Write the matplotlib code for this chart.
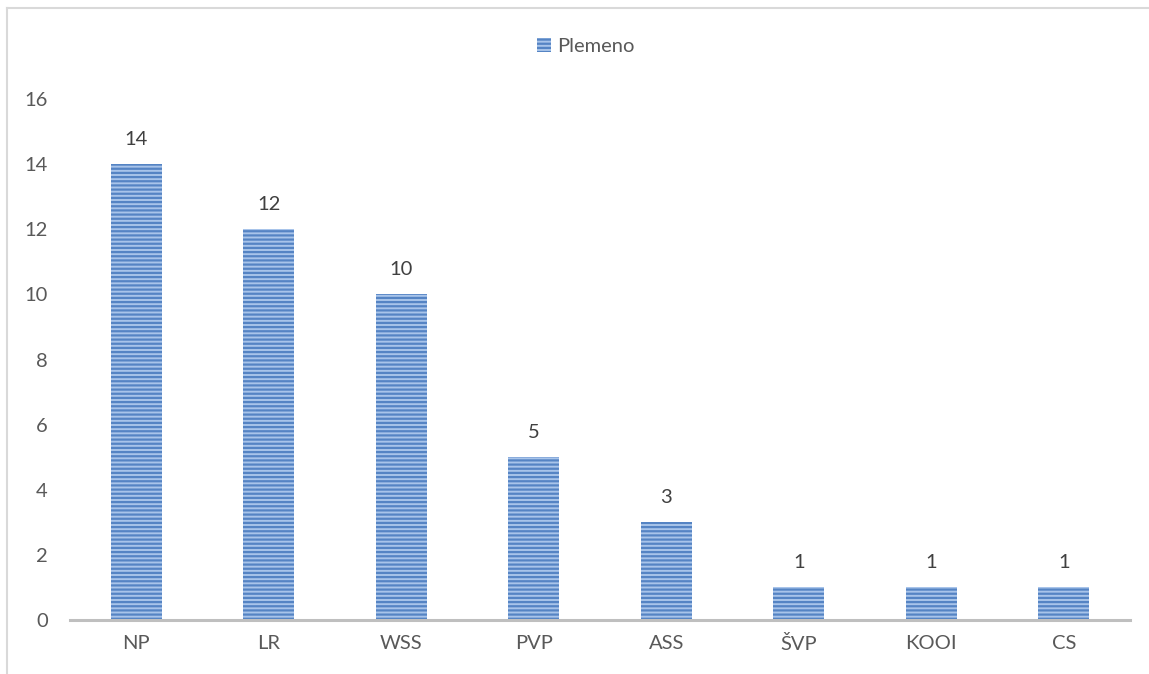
import matplotlib.pyplot as plt
from matplotlib.patches import Patch
from matplotlib.lines import Line2D

categories = ['NP', 'LR', 'WSS', 'PVP', 'ASS', 'ŠVP', 'KOOI', 'CS']
values = [14, 12, 10, 5, 3, 1, 1, 1]
series_name = 'Plemeno'

plt.rcParams['font.family'] = ['Lato', 'DejaVu Sans']
plt.rcParams['hatch.linewidth'] = 1.6
plt.rcParams['hatch.color'] = '#5584c4'

text_color = '#595959'

fig = plt.figure(figsize=(11.49, 6.74), dpi=100)
ax = fig.add_axes([0.0609, 0.0801, 0.9226, 0.773])

x = range(len(categories))
bars = ax.bar(x, values, width=0.385, color='#a8c4ea', edgecolor='#5584c4',
              linewidth=0, hatch='----', zorder=2)

for xi, v in zip(x, values):
    ax.text(xi, v + 0.5, str(v), ha='center', va='bottom', fontsize=14.5, color='#404040')

ax.set_xlim(-0.5, len(categories) - 0.5)
ax.set_ylim(0, 16)
ax.set_yticks(range(0, 17, 2))
ax.set_xticks(list(x))
ax.set_xticklabels(categories)
ax.tick_params(axis='both', length=0, labelsize=14.5, labelcolor=text_color)
ax.tick_params(axis='y', pad=16)
ax.tick_params(axis='x', pad=11)

for side in ['top', 'right', 'left']:
    ax.spines[side].set_visible(False)
ax.spines['bottom'].set_color('#bfbfbf')
ax.spines['bottom'].set_linewidth(2.2)

handle = Patch(facecolor='#a8c4ea', edgecolor='#5584c4', hatch='----', linewidth=0)
fig.legend([handle], [series_name], loc='center', bbox_to_anchor=(0.51, 0.931),
           frameon=False, fontsize=14.5, labelcolor=text_color,
           handlelength=0.7, handleheight=0.7, handletextpad=0.3)

# chart border (only left and top visible in the crop)
fig.add_artist(Line2D([0.0061, 0.0061], [0, 0.9877], transform=fig.transFigure,
                      color='#d9d9d9', linewidth=1.5))
fig.add_artist(Line2D([0.0061, 1.0], [0.9877, 0.9877], transform=fig.transFigure,
                      color='#d9d9d9', linewidth=1.5))

fig.savefig('out.png', dpi=100)
